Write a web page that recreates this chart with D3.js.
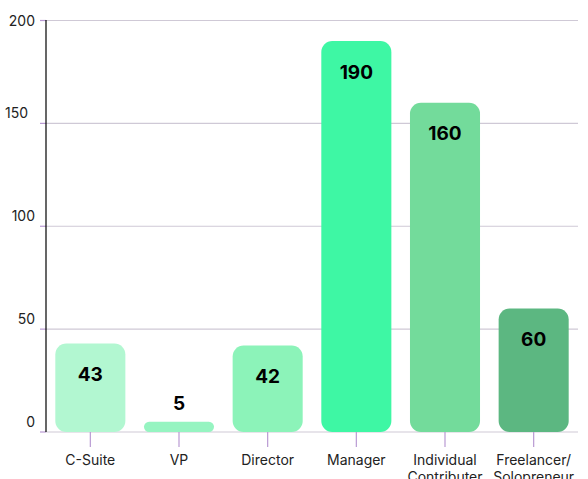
<!DOCTYPE html>
<html><head><meta charset="utf-8">
<script src="https://cdn.jsdelivr.net/npm/d3@7"></script>
<style>html,body{margin:0;padding:0;background:#fff;}svg{display:block;font-family:Inter,"Noto Sans",sans-serif;}</style>
</head><body>
<svg id="c" width="588" height="479"></svg>
<script>
const categories = [["C-Suite"], ["VP"], ["Director"], ["Manager"], ["Individual","Contributer"], ["Freelancer/","Solopreneur"]];
const values = [43, 5, 42, 190, 160, 60];
const colors = ["#b2f7d1", "#96f4c1", "#8cf3b9", "#3ef7a4", "#73db9b", "#5cb781"];
const yTicks = [0, 50, 100, 150, 200];

const svg = d3.select("#c");
const x0 = 46, x1 = 578, yTop = 20.5, yBot = 432;
const x = d3.scaleBand().domain(d3.range(values.length)).range([x0, x1]).paddingInner(0.21).paddingOuter(0.105);
const y = d3.scaleLinear().domain([0, 200]).range([yBot, yTop]);

// gridlines
const g = svg.append("g");
yTicks.forEach(t => {
  g.append("line").attr("x1", x0).attr("x2", x1).attr("y1", y(t)).attr("y2", y(t))
    .attr("stroke", "#cfc9d6").attr("stroke-width", 1.2);
  g.append("line").attr("x1", 40).attr("x2", x0).attr("y1", y(t)).attr("y2", y(t))
    .attr("stroke", "#b99ad3").attr("stroke-width", 1.2);
  const top = t === 200;
  g.append("text").attr("x", t === 150 ? 28 : 35).attr("y", top ? y(t) : y(t) - 11)
    .attr("text-anchor", "end").attr("dominant-baseline", "central")
    .attr("font-size", 14).attr("fill", "#222").text(t);
});

// y axis line
svg.append("line").attr("x1", x0).attr("x2", x0).attr("y1", yTop - 0.5).attr("y2", yBot)
  .attr("stroke", "#000").attr("stroke-width", 1.2);

// bars
values.forEach((v, i) => {
  const h = yBot - y(v);
  const r = Math.min(11, h / 2);
  svg.append("rect").attr("x", x(i)).attr("y", y(v)).attr("width", x.bandwidth()).attr("height", h)
    .attr("rx", r).attr("ry", r).attr("fill", colors[i]);
  const inside = h > 40;
  svg.append("text").attr("x", x(i) + x.bandwidth() / 2).attr("y", inside ? y(v) + 31 : y(v) - 18)
    .attr("text-anchor", "middle").attr("dominant-baseline", "central")
    .attr("font-size", 19).attr("font-weight", 700).attr("fill", "#000").text(v);
});

// bottom ticks and labels
categories.forEach((c, i) => {
  const cx = x(i) + x.bandwidth() / 2;
  svg.append("line").attr("x1", cx).attr("x2", cx).attr("y1", yBot).attr("y2", 447)
    .attr("stroke", "#b99ad3").attr("stroke-width", 1.2);
  const t = svg.append("text").attr("text-anchor", "middle").attr("font-size", 14).attr("fill", "#222");
  c.forEach((line, j) => {
    t.append("tspan").attr("x", cx).attr("y", 459 + j * 17).attr("dominant-baseline", "central").text(line);
  });
});
</script>
</body></html>
